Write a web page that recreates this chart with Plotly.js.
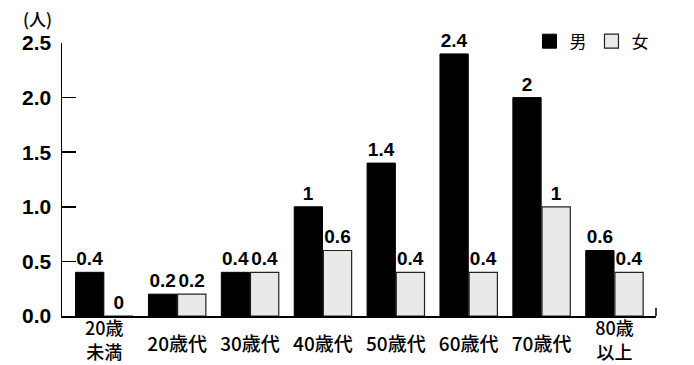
<!DOCTYPE html>
<html><head><meta charset="utf-8">
<script src="https://cdn.plot.ly/plotly-3.0.1.min.js"></script>
<style>html,body{margin:0;padding:0;background:#fff;}#chart{width:694px;height:365px;}</style>
</head><body><div id="chart"></div>
<script>
const categories = ["20歳<br>未満", "20歳代", "30歳代", "40歳代", "50歳代", "60歳代", "70歳代", "80歳<br>以上"];
const male = [0.4, 0.2, 0.4, 1, 1.4, 2.4, 2, 0.6];
const female = [0, 0.2, 0.4, 0.6, 0.4, 0.4, 1, 0.4];
const seriesNames = ["男", "女"];
const yTicks = [0, 0.5, 1.0, 1.5, 2.0, 2.5];
const yTickText = ["0.0", "0.5", "1.0", "1.5", "2.0", "2.5"];
const unitLabel = "(人)";

const maleColor = "#000", femaleColor = "#e8e9e8";
const tickNumFont = {family: "'Liberation Sans', Arial, sans-serif", size: 21, color: "#000", weight: 700};
const valFont = {family: "'Liberation Sans', Arial, sans-serif", size: 19, color: "#000", weight: 700};
const jpFont = {family: "'Noto Sans CJK JP', sans-serif", size: 19, color: "#000", weight: 500};
const jpFontMulti = {family: "'Noto Sans CJK JP', sans-serif", size: 18, color: "#000", weight: 500};

const multi = categories.filter(c => c.includes("<br>"));
const single = categories.filter(c => !c.includes("<br>"));

const traces = [
  {type: "bar", name: seriesNames[0], x: categories, y: male, text: male.map(String), textposition: "outside", constraintext: "none",
   textfont: valFont, cliponaxis: false, marker: {color: maleColor, line: {color: "#000", width: 1}}, hoverinfo: "none", showlegend: false},
  {type: "bar", name: seriesNames[1], x: categories, y: female, text: female.map(String), textposition: "outside", constraintext: "none",
   textfont: valFont, cliponaxis: false, marker: {color: femaleColor, line: {color: "#222", width: 1.2}}, hoverinfo: "none", showlegend: false},
  // helper trace so the second (label-only) category axis knows the categories
  {type: "scatter", mode: "none", x: categories, y: categories.map(() => null), xaxis: "x2", showlegend: false, hoverinfo: "none"},
  // legend entries with larger square symbols
  {type: "scatter", mode: "markers", name: seriesNames[0], x: [null], y: [null],
   marker: {symbol: "square", size: 14, color: maleColor, line: {color: "#000", width: 1}}},
  {type: "scatter", mode: "markers", name: seriesNames[1], x: [null], y: [null],
   marker: {symbol: "square", size: 14, color: femaleColor, line: {color: "#222", width: 1.2}}}
];

const layout = {
  width: 694, height: 365,
  margin: {l: 62, r: 38, t: 43, b: 49},
  paper_bgcolor: "#fff", plot_bgcolor: "#fff",
  barmode: "group", bargap: 0.2, bargroupgap: 0.03,
  showlegend: true,
  legend: {orientation: "h", x: 0.787, xanchor: "left", y: 1.005, yanchor: "middle",
           font: {family: "'Noto Sans CJK JP', sans-serif", size: 17, color: "#000"}, itemwidth: 30, tracegroupgap: 0,
           traceorder: "normal", bgcolor: "rgba(0,0,0,0)"},
  xaxis: {type: "category", range: [-0.58, 7.57], showline: true, linecolor: "#000", linewidth: 1.5,
          tickvals: multi, ticktext: multi, ticklabelstandoff: -4,
          ticks: "", showgrid: false, zeroline: false, tickfont: jpFontMulti, fixedrange: true},
  xaxis2: {type: "category", overlaying: "x", matches: "x", side: "bottom", range: [-0.58, 7.57],
           tickvals: single, ticktext: single, ticklabelstandoff: 15,
           showline: false, ticks: "", showgrid: false, zeroline: false, tickfont: jpFont, fixedrange: true},
  yaxis: {range: [0, 2.5], tickvals: yTicks, ticktext: yTickText, showline: true, linecolor: "#000", linewidth: 1.5,
          ticks: "inside", ticklen: 14, tickwidth: 1.5, tickcolor: "#000", showgrid: false, zeroline: false,
          tickfont: tickNumFont, ticklabelstandoff: 5, fixedrange: true},
  shapes: [{type: "line", xref: "paper", yref: "y", x0: 1, x1: 1, y0: 0, y1: 0.075, line: {color: "#000", width: 1.5}}],
  annotations: [{text: unitLabel, xref: "paper", yref: "paper", x: 0, y: 1.0, xanchor: "right", yanchor: "middle",
                 xshift: -8, yshift: 25, showarrow: false,
                 font: {family: "'Noto Sans CJK JP', sans-serif", size: 17, color: "#000", weight: 500}}]
};
Plotly.newPlot("chart", traces, layout, {displayModeBar: false, staticPlot: true});
</script></body></html>
